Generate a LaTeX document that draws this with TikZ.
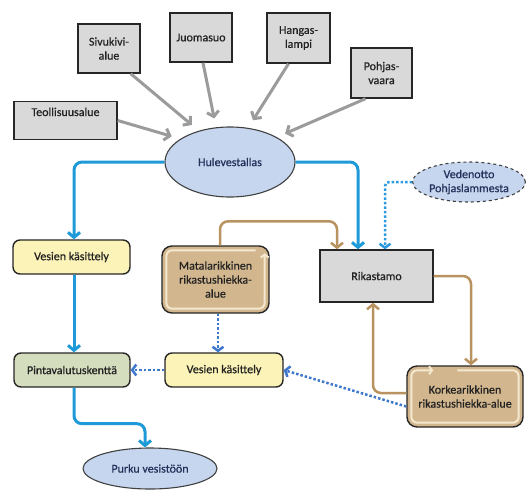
\documentclass[tikz,border=0pt]{standalone}
\usepackage{fontspec}
\setmainfont{Carlito}
\newfontfamily\diagfont{Carlito}[FakeBold=0.6]
\usetikzlibrary{arrows.meta,calc,shapes.geometric}
\definecolor{cBoxGray}{HTML}{D9D9D9}
\definecolor{cEll}{HTML}{C6D6EF}
\definecolor{cYel}{HTML}{FCF3B8}
\definecolor{cGrn}{HTML}{D5DDBF}
\definecolor{cTan}{HTML}{D2B68E}
\definecolor{cTanLine}{HTML}{F4E8CF}
\definecolor{cBrown}{HTML}{B8925F}
\definecolor{cBlue}{HTML}{1E9AD8}
\definecolor{cDotBlue}{HTML}{3D78CC}
\definecolor{cDotCyan}{HTML}{2A9BE0}
\definecolor{cArrGray}{HTML}{9B9B9B}
\definecolor{cTxt}{HTML}{222222}
\definecolor{cNavy}{HTML}{22305A}
\tikzset{
  base/.style={font=\diagfont\fontsize{12}{14}\selectfont, align=center, inner sep=2pt},
  srcbox/.style={base, draw=black!85, line width=1.4pt, fill=cBoxGray, text=cTxt},
  ellnode/.style={base, ellipse, draw=black!75, line width=1.1pt, fill=cEll, text=cNavy, inner sep=0pt},
  rbox/.style={base, rounded corners=7pt, draw=black!85, line width=1.4pt, text=cTxt},
  grayarr/.style={draw=cArrGray, line width=3pt, -{Straight Barb[length=5pt,width=12pt]}, shorten >=9pt},
  bluearr/.style={draw=cBlue, line width=3pt, rounded corners=8pt, -{Straight Barb[length=5pt,width=12pt]}},
  dotarr/.style={draw=cDotBlue, line width=2.5pt, dotted, -{Straight Barb[length=4pt,width=11pt]}},
  dotcyanarr/.style={draw=cDotCyan, line width=2.5pt, dotted, -{Straight Barb[length=4pt,width=11pt]}},
  brownarr/.style={draw=cBrown, line width=2.5pt, rounded corners=8pt, -{Straight Barb[length=5pt,width=12pt]}},
  innerloop/.style={draw=cTanLine, line width=2pt, rounded corners=6pt, -{Straight Barb[length=3pt,width=8pt]}}
}
\begin{document}
\begin{tikzpicture}[x=1pt,y=-1pt]
\useasboundingbox (0,0) rectangle (526,490);
% source boxes
\node[srcbox, minimum width=103pt, minimum height=38pt, text height=9pt, text depth=18pt] (teol) at (65.5,120.5) {Teollisuusalue};
\node[srcbox, minimum width=62pt, minimum height=49pt] (sivu) at (109,48.5) {Sivukivi-\\alue};
\node[srcbox, minimum width=62pt, minimum height=49pt] (juoma) at (201,37.5) {Juomasuo};
\node[srcbox, minimum width=63pt, minimum height=50pt] (hangas) at (298.5,38) {Hangas-\\lampi};
\node[srcbox, minimum width=61pt, minimum height=50pt] (pohjas) at (381.5,73) {Pohjas-\\vaara};
% ellipses
\node[ellnode, minimum width=130pt, minimum height=70pt] (hule) at (230,162) {Hulevestallas};
\node[ellnode, dashed, minimum width=112pt, minimum height=40pt] (vedenotto) at (469,182) {Vedenotto\\Pohjaslammesta};
\node[ellnode, minimum width=134pt, minimum height=41pt] (purku) at (150,468.5) {Purku vesistöön};
% process boxes
\node[srcbox, minimum width=113pt, minimum height=52pt] (rik) at (376.5,276) {Rikastamo};
\node[rbox, fill=cYel, minimum width=117pt, minimum height=34pt] (ves1) at (71.5,257) {Vesien käsittely};
\node[rbox, fill=cGrn, minimum width=116pt, minimum height=34pt] (pinta) at (72,370) {Pintavalutuskenttä};
\node[rbox, fill=cYel, minimum width=118pt, minimum height=34pt] (ves2) at (224,370) {Vesien käsittely};
\node[rbox, fill=cTan, minimum width=107pt, minimum height=67pt, rounded corners=10pt] (mata) at (215.5,279.5) {};
\node[rbox, fill=cTan, minimum width=116pt, minimum height=61pt, rounded corners=10pt] (kork) at (465,396.5) {};
% inner loops of the tailings boxes
\draw[innerloop] ($(mata.north east)+(-14,5)$) -- ($(mata.north west)+(5,5)$) -- ($(mata.south west)+(5,-5)$) -- ($(mata.south east)+(-5,-5)$) -- ($(mata.north east)+(-5,8)$);
\draw[innerloop] ($(kork.north west)+(51,5)$) -- ($(kork.north east)+(-5,5)$) -- ($(kork.south east)+(-5,-5)$) -- ($(kork.south west)+(5,-5)$) -- ($(kork.north west)+(5,5)$) -- ($(kork.north west)+(27,5)$);
\node[base, text=cTxt] (matatext) at (mata.center) {Matalarikkinen\\rikastushiekka-\\alue};
\node[base, text=cTxt] (korktext) at (kork.center) {Korkearikkinen\\rikastushiekka-alue};
% gray arrows into the storm water basin
\draw[grayarr] (teol.east) -- (hule.155);
\draw[grayarr] ([xshift=-10pt]sivu.south east) -- (hule.135);
\draw[grayarr] ([xshift=2pt]juoma.south) -- (hule.112);
\draw[grayarr] ([xshift=-10pt]hangas.south) -- (hule.62);
\draw[grayarr] ([xshift=-16pt]pohjas.south) -- (hule.28);
% blue flows
\draw[bluearr] (hule.west) -| ([xshift=2.5pt]ves1.north);
\draw[bluearr] ([xshift=2.5pt]ves1.south) -- ([xshift=2.5pt]ves1.south |- pinta.north);
\draw[bluearr] ([xshift=2pt]pinta.south) -- ++(0,36) -| ([xshift=-5pt]purku.north);
\draw[bluearr] (hule.east) -| ([xshift=-18.5pt]rik.north);
% dotted flows
\draw[dotcyanarr, rounded corners=4pt] (vedenotto.west) -| ([xshift=8.5pt]rik.north);
\draw[dotarr] ([xshift=2.5pt]mata.south) -- ([xshift=2.5pt]mata.south |- ves2.north);
\draw[dotarr] (ves2.west) -- (pinta.east);
\draw[dotarr] ([yshift=-10pt]kork.west) -- (ves2.east);
% brown flows
\draw[brownarr] ([xshift=4.5pt]mata.north) -- ++(0,-24) -| ([xshift=-39.5pt]rik.north);
\draw[brownarr] (rik.east) -| ([xshift=6pt]kork.north);
\draw[brownarr] ([yshift=3.5pt]kork.west) -| ([xshift=-3.5pt]rik.south);
\end{tikzpicture}
\end{document}
